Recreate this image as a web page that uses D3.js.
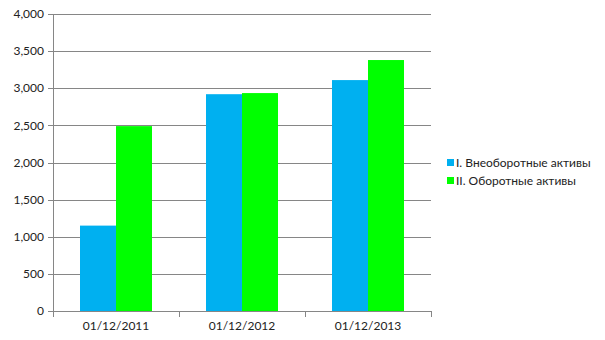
<!DOCTYPE html>
<html>
<head>
<meta charset="utf-8">
<script src="https://cdn.jsdelivr.net/npm/d3@7"></script>
<style>
  body { margin: 0; background: #fff; }
  text { font-family: Lato, "Open Sans", sans-serif; fill: #222; }
</style>
</head>
<body>
<div id="chart"></div>
<script>
// data
var categories = ['01/12/2011', '01/12/2012', '01/12/2013'];
var seriesNames = ['I. Внеоборотные активы', 'II. Оборотные активы'];
var seriesColors = ['#00b0f0', '#00ff00'];
var nonCurrent = [1150, 2920, 3110];
var current = [2490, 2935, 3380];
var yTicks = [0, 500, 1000, 1500, 2000, 2500, 3000, 3500, 4000];

var width = 605, height = 340;
var plotLeft = 53, plotRight = 431, plotTop = 14, plotBottom = 311;

var svg = d3.select('#chart').append('svg')
    .attr('width', width)
    .attr('height', height);

var x = d3.scaleBand()
    .domain(categories)
    .range([plotLeft, plotRight])
    .paddingInner(0)
    .paddingOuter(0);

// two bars per category, 36px each with gaps on both sides
var xInner = d3.scaleBand()
    .domain([0, 1])
    .range([0, x.bandwidth()])
    .paddingOuter(0.75)
    .paddingInner(0);

var y = d3.scaleLinear()
    .domain([0, 4000])
    .range([plotBottom, plotTop]);

// gridlines
svg.append('g')
    .selectAll('line')
    .data(yTicks)
    .enter().append('line')
    .attr('x1', plotLeft - 5)
    .attr('x2', plotRight)
    .attr('y1', function(d){ return Math.round(y(d)) + 0.5; })
    .attr('y2', function(d){ return Math.round(y(d)) + 0.5; })
    .attr('stroke', '#868686')
    .attr('stroke-width', 1);

// y labels
svg.append('g')
    .selectAll('text')
    .data(yTicks)
    .enter().append('text')
    .attr('x', plotLeft - 9)
    .attr('y', function(d){ return y(d); })
    .attr('dy', '0.35em')
    .attr('text-anchor', 'end')
    .style('font-size', '12px')
    .text(function(d){ return d3.format(',')(d); });

// bars
var rows = categories.map(function(c, i){ return {cat: c, vals: [nonCurrent[i], current[i]]}; });

var groups = svg.append('g')
    .selectAll('g')
    .data(rows)
    .enter().append('g')
    .attr('transform', function(d){ return 'translate(' + x(d.cat) + ',0)'; });

groups.selectAll('rect')
    .data(function(d){ return d.vals; })
    .enter().append('rect')
    .attr('x', function(d, i){ return xInner(i); })
    .attr('width', xInner.bandwidth())
    .attr('y', function(d){ return y(d); })
    .attr('height', function(d){ return plotBottom - y(d); })
    .attr('fill', function(d, i){ return seriesColors[i]; });

// axis lines
svg.append('line')
    .attr('x1', plotLeft + 0.5).attr('x2', plotLeft + 0.5)
    .attr('y1', plotTop).attr('y2', plotBottom + 6)
    .attr('stroke', '#868686');

svg.append('line')
    .attr('x1', plotLeft).attr('x2', plotRight + 1)
    .attr('y1', plotBottom + 0.5).attr('y2', plotBottom + 0.5)
    .attr('stroke', '#868686');

// x ticks at band edges
var edges = categories.map(function(c){ return x(c); }).concat([plotRight]);
svg.append('g')
    .selectAll('line')
    .data(edges)
    .enter().append('line')
    .attr('x1', function(d){ return Math.round(d) + 0.5; })
    .attr('x2', function(d){ return Math.round(d) + 0.5; })
    .attr('y1', plotBottom)
    .attr('y2', plotBottom + 6)
    .attr('stroke', '#868686');

svg.append('g')
    .selectAll('text')
    .data(categories)
    .enter().append('text')
    .attr('x', function(d){ return x(d) + x.bandwidth() / 2; })
    .attr('y', 330)
    .attr('text-anchor', 'middle')
    .style('font-size', '12px')
    .text(function(d){ return d; });

// legend
var legend = svg.append('g')
    .selectAll('g')
    .data(seriesNames)
    .enter().append('g')
    .attr('transform', function(d, i){ return 'translate(447,' + (159 + i * 18) + ')'; });

legend.append('rect')
    .attr('width', 7)
    .attr('height', 7)
    .attr('fill', function(d, i){ return seriesColors[i]; });

legend.append('text')
    .attr('x', 9)
    .attr('y', 3.5)
    .attr('dy', '0.35em')
    .style('font-size', '12px')
    .text(function(d){ return d; });
</script>
</body>
</html>
